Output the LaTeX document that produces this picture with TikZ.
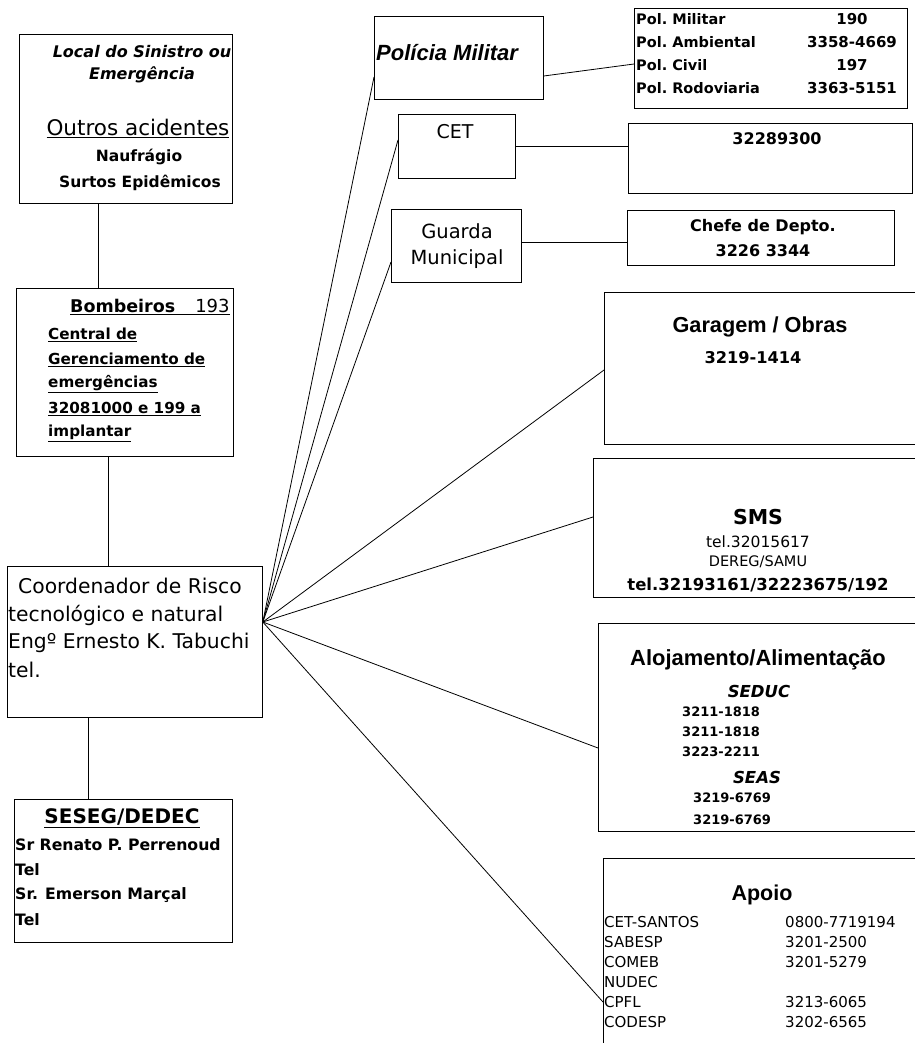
\documentclass[tikz,border=0pt]{standalone}
\usepackage{fontspec}
\usepackage{tikz}
\usetikzlibrary{positioning}
\newfontfamily\comic{DejaVu Sans}
\newfontfamily\arial{Liberation Sans}
\newcommand{\fsz}[1]{\fontsize{#1}{#1}\selectfont}
\tikzset{
  panel/.style={draw, line width=.8pt, anchor=north west, inner sep=0pt},
  lbl/.style={inner sep=0pt, font=\comic},
  link/.style={line width=.8pt},
}

\begin{document}
\begin{tikzpicture}[x=1pt, y=-1pt]
  \path[use as bounding box, fill=white] (0,0) rectangle (914,1043);

  % left column
  \node[panel, minimum width=213pt, minimum height=169pt] (loc) at (19,34) {};
  \node[lbl, font=\comic\bfseries\itshape\fsz{16}] (loc1) at (142,52) {Local do Sinistro ou};
  \node[lbl, font=\comic\bfseries\itshape\fsz{16}] (loc2) at (142,75) {Emergência};
  \node[lbl, font=\comic\fsz{21.5}] (outros) at (138,128) {\underline{Outros acidentes}};
  \node[lbl, font=\comic\bfseries\fsz{15.5}] (nauf) at (139,157) {Naufrágio};
  \node[lbl, font=\comic\bfseries\fsz{15.5}] (surtos) at (140,183) {Surtos Epidêmicos};

  \node[panel, minimum width=217pt, minimum height=168pt] (bomb) at (16,288) {};
  \node[lbl, anchor=west, font=\comic\fsz{17.5}] (bomb0) at (70,307) {\underline{\textbf{Bombeiros}\hspace{20pt}{\fsz{18}193}}};
  \foreach \txt [count=\i from 0] in {Central de, Gerenciamento de, emergências, 32081000 e 199 a, implantar}
    \node[lbl, anchor=west, font=\comic\bfseries\fsz{15.2}] (bomb\i) at (48,335+24.7*\i) {\underline{\txt}};

  \node[panel, minimum width=255pt, minimum height=151pt] (coord) at (7,566) {};
  \node[lbl, anchor=west, font=\comic\fsz{20.3}] (coord1) at (18,586) {Coordenador de Risco};
  \node[lbl, anchor=west, font=\comic\fsz{20.3}] (coord2) at (8,615) {tecnológico e natural};
  \node[lbl, anchor=west, font=\comic\fsz{20.3}] (coord3) at (8,643) {Engº Ernesto K. Tabuchi};
  \node[lbl, anchor=west, font=\comic\fsz{20.3}] (coord4) at (8,670) {tel.};

  \node[panel, minimum width=218pt, minimum height=143pt] (seseg) at (14,799) {};
  \node[lbl, font=\comic\bfseries\fsz{20}] (seseg0) at (122,818) {\underline{SESEG/DEDEC}};
  \foreach \txt [count=\i from 1] in {Sr Renato P. Perrenoud, Tel, Sr. Emerson Marçal, Tel}
    \node[lbl, anchor=west, font=\comic\bfseries\fsz{15.7}] (seseg\i) at (15,820+25*\i) {\txt};

  \draw[link] (loc.south -| 98,0) -- (bomb.north -| 98,0);
  \draw[link] (bomb.south -| 108,0) -- (coord.north -| 108,0);
  \draw[link] (coord.south -| 88,0) -- (seseg.north -| 88,0);

  % police
  \node[panel, minimum width=169pt, minimum height=83pt] (pm) at (374,16) {};
  \node[lbl, anchor=west, font=\arial\bfseries\itshape\fsz{22}] (pmtxt) at (376,53) {Polícia Militar};
  \node[panel, minimum width=273pt, minimum height=100pt] (pol) at (634,8) {};
  \foreach \nm/\tel/\yy [count=\i] in {Militar/190/19, Ambiental/3358-4669/42, Civil/197/65, Rodoviaria/3363-5151/88}{
    \node[lbl, anchor=west, font=\comic\bfseries\fsz{14.5}] (poln\i) at (636,\yy) {Pol.\ \nm};
    \node[lbl, font=\comic\bfseries\fsz{15}] (polt\i) at (852,\yy) {\tel};
  }
  \draw[link] (pm.east |- 0,76) -- (pol.west |- 0,64);

  % CET and guarda
  \node[panel, minimum width=117pt, minimum height=64pt] (cet) at (398,114) {};
  \node[lbl, font=\comic\fsz{19}] (cettxt) at (455,132) {CET};
  \node[panel, minimum width=284pt, minimum height=70pt] (cetnum) at (628,123) {};
  \node[lbl, font=\comic\bfseries\fsz{16}] (cetnumtxt) at (777,139) {32289300};
  \draw[link] (cet.east |- 0,146) -- (cetnum.west |- 0,146);

  \node[panel, minimum width=130pt, minimum height=73pt] (gm) at (391,209) {};
  \node[lbl, font=\comic\fsz{19.5}] (gm1) at (457,231) {Guarda};
  \node[lbl, font=\comic\fsz{19.5}] (gm2) at (457,259) {Municipal};
  \node[panel, minimum width=267pt, minimum height=55pt] (chefe) at (627,210) {};
  \node[lbl, font=\comic\bfseries\fsz{16}] (chefe1) at (763,227) {Chefe de Depto.};
  \node[lbl, font=\comic\bfseries\fsz{16}] (chefe2) at (763,251) {3226 3344};
  \draw[link] (gm.east |- 0,242) -- (chefe.west |- 0,242);

  % right column
  \node[panel, minimum width=350pt, minimum height=152pt] (gar) at (604,292) {};
  \node[lbl, font=\arial\bfseries\fsz{21.7}] (gar1) at (760,327) {Garagem / Obras};
  \node[lbl, font=\comic\bfseries\fsz{16.2}] (gar2) at (753,358) {3219-1414};

  \node[panel, minimum width=350pt, minimum height=139pt] (sms) at (593,458) {};
  \node[lbl, font=\comic\bfseries\fsz{20.5}] (sms1) at (758,517) {SMS};
  \node[lbl, font=\comic\fsz{15.5}] (sms2) at (758,542) {tel.32015617};
  \node[lbl, font=\comic\fsz{14.5}] (sms3) at (758,562) {DEREG/SAMU};
  \node[lbl, font=\comic\bfseries\fsz{16.5}] (sms4) at (758,585) {tel.32193161/32223675/192};

  \node[panel, minimum width=350pt, minimum height=208pt] (alo) at (598,623) {};
  \node[lbl, font=\arial\bfseries\fsz{21.9}] (alo0) at (758,660) {Alojamento/Alimentação};
  \node[lbl, font=\comic\bfseries\itshape\fsz{16.5}] (seduc) at (759,691) {SEDUC};
  \foreach \tel [count=\i from 0] in {3211-1818, 3211-1818, 3223-2211}
    \node[lbl, anchor=west, font=\comic\bfseries\fsz{13}] (seduc\i) at (682,712+20*\i) {\tel};
  \node[lbl, font=\comic\bfseries\itshape\fsz{16.5}] (seas) at (757,777) {SEAS};
  \foreach \tel [count=\i from 0] in {3219-6769, 3219-6769}
    \node[lbl, anchor=west, font=\comic\bfseries\fsz{13}] (seas\i) at (693,798+22*\i) {\tel};

  \node[panel, minimum width=350pt, minimum height=250pt] (apo) at (603,858) {};
  \node[lbl, font=\arial\bfseries\fsz{21.5}] (apo0) at (762,895) {Apoio};
  \foreach \nm/\tel [count=\i from 0] in {CET-SANTOS/0800-7719194, SABESP/3201-2500, COMEB/3201-5279, NUDEC/, CPFL/3213-6065, CODESP/3202-6565}{
    \node[lbl, anchor=west, font=\comic\fsz{15}] (apn\i) at (604,922+20*\i) {\nm};
    \node[lbl, anchor=west, font=\comic\fsz{15}] (apt\i) at (785,922+20*\i) {\tel};
  }

  % fan from the coordinator
  \coordinate (hub) at (coord.east |- 0,622);
  \foreach \tgt/\yy in {pm/77, cet/140, gm/262, gar/370, sms/517, alo/748, apo/1002}
    \draw[link] (hub) -- (\tgt.west |- 0,\yy);
\end{tikzpicture}
\end{document}
